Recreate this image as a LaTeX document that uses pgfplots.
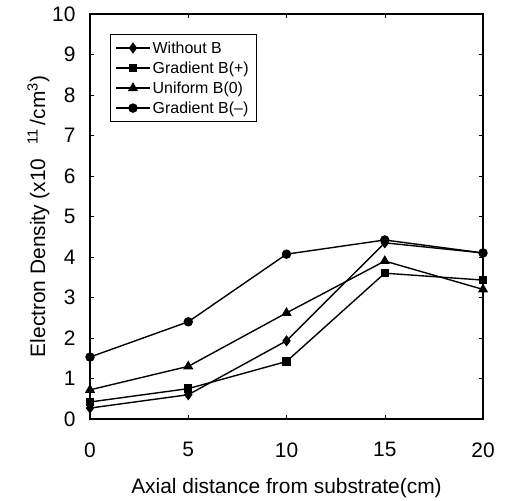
\documentclass[border=0pt]{standalone}
\usepackage{pgfplots}
\pgfplotsset{compat=1.18}
\usepackage{fontspec}
\setmainfont{Liberation Sans}
\begin{document}
\begin{tikzpicture}[x=1bp,y=1bp]
\path (0,0) rectangle (509,496);
\begin{axis}[
  at={(90bp,77bp)}, anchor=south west,
  width=393bp, height=405bp, scale only axis,
  xmin=0, xmax=20, ymin=0, ymax=10,
  xtick={0,5,10,15,20}, ytick={0,1,...,10},
  tick align=inside, major tick length=4bp,
  tick style={black, line width=0.5pt},
  axis line style={line width=1.2pt},
  /pgf/number format/assume math mode=true,
  tick label style={font=\fontsize{21}{24}\selectfont},
  xticklabel style={yshift=-20bp},
  yticklabel style={xshift=-11bp},
  xlabel={Axial distance from substrate(cm)},
  ylabel={Electron Density (x10\hspace{14bp}\textsuperscript{11}\,/cm\textsuperscript{3})},
  label style={font=\fontsize{21}{24}\selectfont},
  xlabel style={yshift=-14bp},
  ylabel style={yshift=-4bp},
  legend style={at={(0.051,0.95)}, anchor=north west, draw=black, line width=0.5pt,
    font=\fontsize{16}{18}\selectfont, row sep=3bp, inner xsep=5bp, inner ysep=5bp},
  legend image code/.code={\draw[mark repeat=2,mark phase=2] plot coordinates {(0bp,0bp) (17bp,0bp) (34bp,0bp)};},
  legend cell align=left,
  every axis plot/.append style={black, line width=1.4pt, mark options={solid, fill=black}},
]
\addplot[mark=diamond*, mark size=4.5bp] coordinates {(0,0.27) (5,0.6) (10,1.93) (15,4.35) (20,4.1)};
\addlegendentry{Without B}
\addplot[mark=square*, mark size=3.5bp] coordinates {(0,0.42) (5,0.75) (10,1.42) (15,3.6) (20,3.43)};
\addlegendentry{Gradient B(+)}
\addplot[mark=triangle*, mark size=4.5bp] coordinates {(0,0.72) (5,1.3) (10,2.62) (15,3.9) (20,3.2)};
\addlegendentry{Uniform B(0)}
\addplot[mark=*, mark size=4bp] coordinates {(0,1.53) (5,2.4) (10,4.07) (15,4.42) (20,4.1)};
\addlegendentry{Gradient B(--)}
\end{axis}
\end{tikzpicture}
\end{document}
